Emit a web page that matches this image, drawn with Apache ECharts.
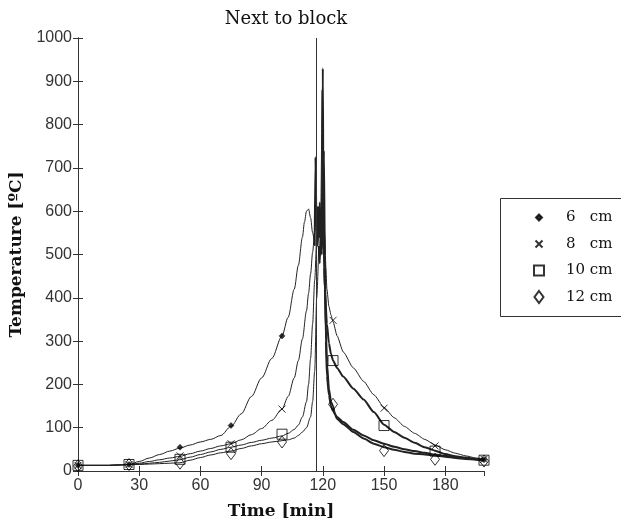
<!DOCTYPE html>
<html><head><meta charset="utf-8">
<script src="https://cdn.jsdelivr.net/npm/echarts@6/dist/echarts.min.js"></script>
<style>html,body{margin:0;padding:0;background:#fff}#c{width:621px;height:525px}</style>
</head><body><div id="c"></div><script>
// ---- data (time [min], temperature [°C]) ----
const seriesNames = ['6 cm', '8 cm', '10 cm', '12 cm'];
const xTicks = [0, 30, 60, 90, 120, 150, 180];
const blockTime = 117;

// continuous records, rising part
const rise6 = [[0,13],[5,13],[10,13],[15,13],[20,14],[25,15],[30,22],[35,30],[40,38],[45,46],[50,53],[55,60],[60,67],[65,73],[70,82],[75,103],[80,132],[85,172],[90,215],[95,260],[100,312],[103,355],[106,420],[108,475],[110,540],[111,575],[112,600],[113,605],[114,585],[115,550],[116,520]];
const rise8 = [[0,13],[5,13],[10,13],[15,13],[20,14],[25,15],[30,18],[35,22],[40,26],[45,30],[50,34],[55,40],[60,46],[65,52],[70,58],[75,63],[80,72],[85,84],[90,98],[95,117],[100,143],[103,172],[106,215],[108,255],[110,305],[112,370],[113,410],[114,455],[115,505],[116,555],[117,600]];
const rise10 = [[0,13],[5,13],[10,13],[15,13],[20,14],[25,15],[30,16],[35,18],[40,20],[45,23],[50,26],[55,32],[60,38],[65,44],[70,50],[75,55],[80,60],[85,66],[90,71],[95,76],[100,81],[103,87],[106,96],[108,106],[110,125],[112,160],[113,200],[114,260],[115,340],[116,440],[117,560]];
const rise12 = [[0,13],[5,13],[10,13],[15,13],[20,14],[25,15],[30,15],[35,16],[40,17],[45,18],[50,19],[55,25],[60,31],[65,37],[70,42],[75,46],[80,52],[85,58],[90,63],[95,67],[100,70],[103,72],[106,76],[108,82],[110,90],[112,100],[114,125],[115,160],[116,230],[117,400],[118,520]];

// continuous records, peak + cooling part
const fall6 = [[116,520],[116.4,725],[116.8,600],[117.2,560],[117.6,610],[118,540],[118.5,620],[119,560],[119.5,520],[120,560],[120.5,740],[121,500],[121.5,300],[122,220],[123,175],[124,150],[125,138],[127,125],[130,113],[135,95],[140,82],[145,71],[150,63],[155,56],[160,50],[165,46],[170,42],[175,38],[180,35],[185,32],[190,29],[195,27],[199,26]];
const fall8 = [[117,600],[117.5,575],[118,610],[118.5,560],[119,600],[119.7,880],[120,700],[120.4,600],[121,540],[121.5,470],[122,420],[123,380],[124,360],[125,345],[127,312],[130,275],[135,238],[140,207],[145,176],[150,147],[155,123],[160,103],[165,87],[170,73],[175,60],[180,49],[185,41],[190,35],[195,30],[199,28]];
const fall10 = [[117,560],[117.5,520],[118,590],[118.5,540],[119,600],[119.5,560],[120,930],[120.3,600],[120.7,470],[121,420],[122,340],[123,295],[124,270],[125,255],[127,238],[130,218],[135,190],[140,165],[145,136],[150,107],[155,90],[160,77],[165,65],[170,55],[175,47],[180,39],[185,34],[190,31],[195,28],[199,27]];
const fall12 = [[118,520],[118.5,480],[119,560],[119.5,500],[120,610],[120.5,520],[121,420],[121.5,330],[122,250],[123,190],[124,160],[125,150],[126,130],[127,120],[130,108],[135,90],[140,75],[145,63],[150,55],[155,49],[160,44],[165,40],[170,38],[175,36],[180,33],[185,30],[190,28],[195,26],[199,24]];

// marked sample points
const marks6 = [[0,13],[25,15],[50,55],[75,105],[100,312],[199,26]];
const marks8 = [[0,13],[25,15],[50,35],[75,63],[100,143],[125,348],[150,145],[175,58],[199,27]];
const marks10 = [[0,13],[25,15],[50,27],[75,55],[100,85],[125,255],[150,105],[175,46],[199,25]];
const marks12 = [[0,12],[25,15],[50,18],[75,40],[100,67],[125,154],[150,47],[175,27],[199,23]];

// ---- styling ----
const serif = "'DejaVu Serif', 'Liberation Serif', serif";
const sans = "'Liberation Sans', Arial, sans-serif";
const ink = '#222';
const sym = {
  '6 cm': 'path://M0,0M12,12M6,3L9,6L6,9L3,6Z',
  '8 cm': 'path://M0,0M12,12M2.5,2.5L9.5,9.5M9.5,2.5L2.5,9.5',
  '10 cm': 'path://M0,0M12,12M1,1L11,1L11,11L1,11Z',
  '12 cm': 'path://M0,0M12,12M6,0L10.5,6L6,12L1.5,6Z'
};
const legSym = {
  '6 cm': 'path://M0,0M34,12M12,3L15,6L12,9L9,6Z',
  '8 cm': 'path://M0,0M34,12M8.5,2.5L15.5,9.5M15.5,2.5L8.5,9.5',
  '10 cm': 'path://M0,0M34,12M7,1L17,1L17,11L7,11Z',
  '12 cm': 'path://M0,0M34,12M12,0L16.5,6L12,12L7.5,6Z'
};
const rises = [rise6, rise8, rise10, rise12];
const falls = [fall6, fall8, fall10, fall12];
const marks = [marks6, marks8, marks10, marks12];
const fallWidth = [2, 1, 2, 2];

const series = [];
seriesNames.forEach((n, i) => {
  series.push({type:'line', name:n+' rise', data:rises[i], showSymbol:false, silent:true,
    smooth:0.3, smoothMonotone:'x', lineStyle:{color:ink, width:1}, z:2});
  series.push({type:'line', name:n+' fall', data:falls[i], showSymbol:false, silent:true,
    smooth:0.2, smoothMonotone:'x', lineStyle:{color:ink, width:fallWidth[i]}, z:2});
});
seriesNames.forEach((n, i) => {
  series.push({type:'scatter', name:n, data:marks[i], symbol:sym[n], symbolSize:12, clip:false, z:3,
    itemStyle:{color: i === 0 ? '#000' : 'rgba(0,0,0,0)', borderColor:'#000', borderWidth: i === 0 ? 0.5 : 1}});
});
series.push({type:'line', name:'block', data:[], silent:true,
  markLine:{silent:true, symbol:'none', label:{show:false}, animation:false,
    lineStyle:{color:'#333', width:1, type:'solid'}, data:[{xAxis:blockTime}]}});

const chart = echarts.init(document.getElementById('c'), null, {renderer:'canvas'});
chart.setOption({
  animation:false,
  backgroundColor:'#fff',
  title:{text:'Next to block', left:281, top:5, textAlign:'center',
    textStyle:{fontFamily:serif, fontSize:18, fontWeight:'normal', color:'#111'}},
  grid:{left:78, right:137, top:38, bottom:51, containLabel:false},
  xAxis:[
    {type:'value', min:0, max:199, interval:30, position:'bottom',
     name:'Time [min]', nameLocation:'middle', nameGap:32,
     nameTextStyle:{fontFamily:serif, fontSize:17, fontWeight:'bold', color:'#111'},
     axisLine:{show:true, lineStyle:{color:'#333', width:1}},
     axisTick:{show:true, inside:true, length:5, lineStyle:{color:'#333'}},
     axisLabel:{fontFamily:sans, fontSize:16, color:'#333', margin:7, showMaxLabel:false,
       formatter:v => xTicks.includes(v) ? String(v) : ''},
     splitLine:{show:false}},
    {type:'value', min:0, max:199, interval:30, position:'top',
     axisLine:{show:true, lineStyle:{color:'#333', width:1}},
     axisTick:{show:true, inside:true, length:5, lineStyle:{color:'#333'}},
     axisLabel:{show:false}, splitLine:{show:false}}
  ],
  yAxis:[
    {type:'value', min:0, max:1000, interval:100, position:'left',
     name:'Temperature [ºC]', nameLocation:'middle', nameGap:50,
     nameTextStyle:{fontFamily:serif, fontSize:17, fontWeight:'bold', color:'#111'},
     axisLine:{show:true, lineStyle:{color:'#333', width:1}},
     axisTick:{show:true, inside:true, length:5, lineStyle:{color:'#333'}},
     axisLabel:{fontFamily:sans, fontSize:16, color:'#333', margin:6, formatter:v => String(v)},
     splitLine:{show:false}},
    {type:'value', min:0, max:1000, interval:100, position:'right',
     axisLine:{show:true, lineStyle:{color:'#333', width:1}},
     axisTick:{show:true, inside:true, length:5, lineStyle:{color:'#333'}},
     axisLabel:{show:false}, splitLine:{show:false}}
  ],
  legend:{orient:'vertical', left:526, top:210, padding:0, itemWidth:34, itemHeight:12, itemGap:11.5,
    selectedMode:false, z:10,
    data: seriesNames.map(n => ({name:n, icon:legSym[n]})),
    formatter: n => n.length < 5 ? n.replace(' ', '\u00a0\u00a0\u00a0') : n,
    textStyle:{fontFamily:serif, fontSize:15, color:'#111'}},
  graphic:[{type:'rect', left:500, top:198, z:5, silent:true,
    shape:{width:140, height:118}, style:{fill:'#fff', stroke:'#333', lineWidth:1}}],
  series: series
});
</script></body></html>
